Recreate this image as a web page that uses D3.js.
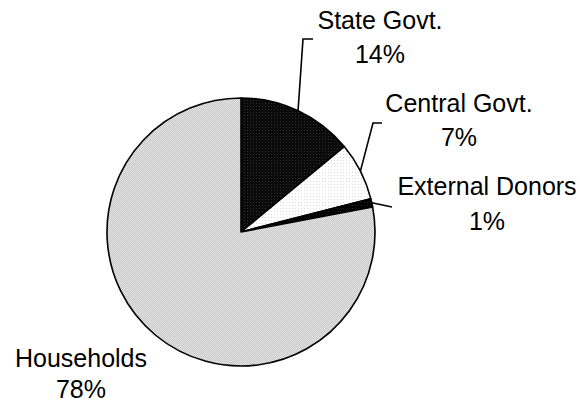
<!DOCTYPE html>
<html>
<head>
<meta charset="utf-8">
<script src="https://cdn.jsdelivr.net/npm/d3@7/dist/d3.min.js"></script>
<style>
  html, body { margin: 0; padding: 0; background: #fff; }
  svg { display: block; }
  text { font-family: Arial, "Liberation Sans", sans-serif; fill: #000; }
</style>
</head>
<body>
<svg id="chart" width="580" height="404"></svg>
<script>
// Funding sources (share of total, %)
const categories = ["State Govt.", "Central Govt.", "External Donors", "Households"];
const shares = [14, 7, 1, 78];
const percentLabels = ["14%", "7%", "1%", "78%"];

const width = 580, height = 404;
const cx = 241, cy = 232, radius = 134;

const svg = d3.select("#chart");
const defs = svg.append("defs");

// Dotted fills for each slice
function dotPattern(id, base, dot, size) {
  const p = defs.append("pattern")
    .attr("id", id)
    .attr("patternUnits", "userSpaceOnUse")
    .attr("width", size).attr("height", size);
  p.append("rect").attr("width", size).attr("height", size).attr("fill", base);
  p.append("rect").attr("x", 0).attr("y", 0).attr("width", 1).attr("height", 1).attr("fill", dot);
  if (size === 2) {
    p.append("rect").attr("x", 1).attr("y", 1).attr("width", 1).attr("height", 1).attr("fill", dot);
  }
}
dotPattern("fill-state", "#0a0a0a", "#2e2e2e", 3);
dotPattern("fill-central", "#ffffff", "#dcdcdc", 3);
dotPattern("fill-external", "#000000", "#222222", 3);
dotPattern("fill-house", "#e4e4e4", "#c8c8c8", 2);
const fills = ["url(#fill-state)", "url(#fill-central)", "url(#fill-external)", "url(#fill-house)"];

const data = categories.map((c, i) => ({ name: c, value: shares[i], label: percentLabels[i], fill: fills[i] }));

const pie = d3.pie().sort(null).value(d => d.value);
const arcs = pie(data);
const arc = d3.arc().innerRadius(0).outerRadius(radius);

const g = svg.append("g").attr("transform", `translate(${cx},${cy})`);

g.selectAll("path.slice")
  .data(arcs)
  .join("path")
  .attr("class", "slice")
  .attr("d", arc)
  .attr("fill", d => d.data.fill)
  .attr("stroke", "#000")
  .attr("stroke-width", 1.6)
  .attr("stroke-linejoin", "round");

// Label placement: text centre, first baseline, gap to second line, leader elbow (null = none)
const labelLayout = [
  { x: 380, y: 29, gap: 34, elbow: [[303, 39], [313, 39]] },
  { x: 459, y: 112, gap: 34, elbow: [[373, 123], [382, 123]] },
  { x: 487, y: 195, gap: 35, elbow: [[392, 207]] },
  { x: 81, y: 367, gap: 31, elbow: null }
];

arcs.forEach((a, i) => {
  const L = labelLayout[i];
  if (L.elbow) {
    const mid = (a.startAngle + a.endAngle) / 2;
    const p0 = [cx + radius * Math.sin(mid), cy - radius * Math.cos(mid)];
    svg.append("path")
      .attr("d", d3.line()([p0, ...L.elbow]))
      .attr("fill", "none")
      .attr("stroke", "#000")
      .attr("stroke-width", 1.6);
  }
  const t = svg.append("text")
    .attr("text-anchor", "middle")
    .attr("font-size", 25);
  t.append("tspan").attr("x", L.x).attr("y", L.y).text(a.data.name);
  t.append("tspan").attr("x", L.x).attr("y", L.y + L.gap).text(a.data.label);
});
</script>
</body>
</html>
